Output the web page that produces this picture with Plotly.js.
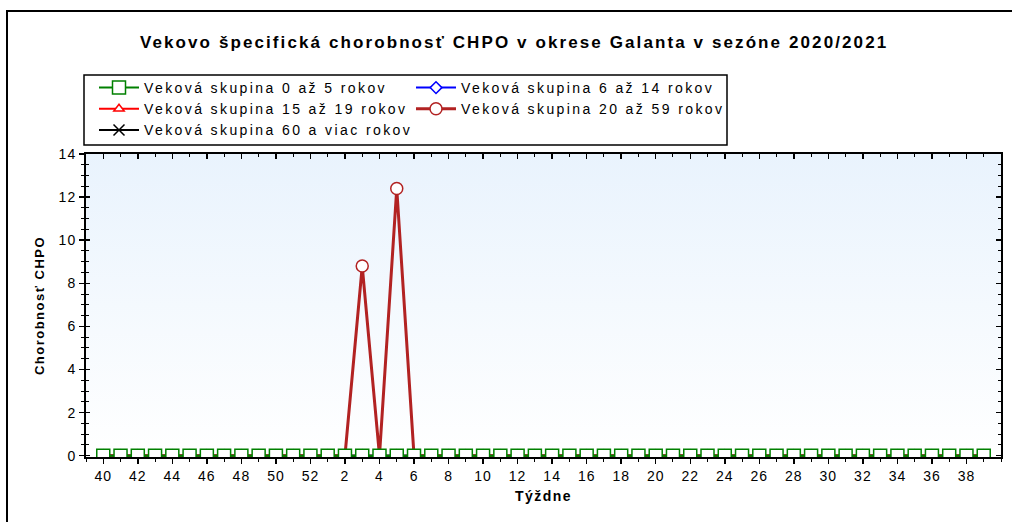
<!DOCTYPE html>
<html>
<head>
<meta charset="utf-8">
<script src="https://cdn.plot.ly/plotly-3.0.1.min.js"></script>
<style>
  html, body { margin: 0; padding: 0; background: #ffffff; }
  #chart { width: 1012px; height: 522px; }
  .gtitle { letter-spacing: 2.1px; }
  .legendtext { letter-spacing: 2.4px; }
  .xtick text, .ytick text { letter-spacing: 1px; }
  .g-xtitle text, .g-ytitle text { letter-spacing: 1.5px; }
</style>
</head>
<body>
<div id="chart"></div>
<script>
// Weeks of the season (week 40/2020 .. week 39/2021)
const weeks = [40,41,42,43,44,45,46,47,48,49,50,51,52,
  1,2,3,4,5,6,7,8,9,10,11,12,13,14,15,16,17,18,19,20,21,22,23,24,25,26,27,28,29,30,31,32,33,34,35,36,37,38,39];

// Series values (chorobnosť CHPO)
const age0to5 = [0,0,0,0,0,0,0,0,0,0,0,0,0,
  0,0,0,0,0,0,0,0,0,0,0,0,0,0,0,0,0,0,0,0,0,0,0,0,0,0,0,0,0,0,0,0,0,0,0,0,0,0,0];
const age6to14 = [0,0,0,0,0,0,0,0,0,0,0,0,0,
  0,0,0,0,0,0,0,0,0,0,0,0,0,0,0,0,0,0,0,0,0,0,0,0,0,0,0,0,0,0,0,0,0,0,0,0,0,0,0];
const age15to19 = [0,0,0,0,0,0,0,0,0,0,0,0,0,
  0,0,0,0,0,0,0,0,0,0,0,0,0,0,0,0,0,0,0,0,0,0,0,0,0,0,0,0,0,0,0,0,0,0,0,0,0,0,0];
const age20to59 = [0,0,0,0,0,0,0,0,0,0,0,0,0,
  0,0,8.8,0,12.4,0,0,0,0,0,0,0,0,0,0,0,0,0,0,0,0,0,0,0,0,0,0,0,0,0,0,0,0,0,0,0,0,0,0];
const age60plus = [0,0,0,0,0,0,0,0,0,0,0,0,0,
  0,0,0,0,0,0,0,0,0,0,0,0,0,0,0,0,0,0,0,0,0,0,0,0,0,0,0,0,0,0,0,0,0,0,0,0,0,0,0];

const seriesNames = [
  'Veková skupina 0 až 5 rokov',
  'Veková skupina 6 až 14 rokov',
  'Veková skupina 15 až 19 rokov',
  'Veková skupina 20 až 59 rokov',
  'Veková skupina 60 a viac rokov'
];
const tickLabels = ['40','42','44','46','48','50','52','2','4','6','8','10','12','14','16','18','20','22','24','26','28','30','32','34','36','38'];

const idx = weeks.map((w, i) => i);
const tickPos = idx.filter(i => i % 2 === 0 && i <= 50);

const font = 'Liberation Sans, Arial, sans-serif';

function tr(y, name, color, symbol, size, lw, rank, mlw) {
  const open = symbol === 'x-thin';
  return {
    x: idx, y: y, name: name, type: 'scatter', mode: 'lines+markers',
    line: { color: color, width: lw },
    marker: { symbol: symbol, size: size, color: open ? color : '#ffffff',
              line: { color: color, width: mlw } },
    legendrank: rank, cliponaxis: true,
    text: weeks.map(String), hovertemplate: 'Týždeň %{text}: %{y}<extra></extra>'
  };
}

const traces = [
  tr(age6to14, seriesNames[1], '#0000ff', 'diamond', 9, 2, 2, 1.5),
  tr(age15to19, seriesNames[2], '#ff0000', 'triangle-up', 9, 2, 3, 1.5),
  tr(age60plus, seriesNames[4], '#000000', 'x-thin', 11, 2, 5, 1.5),
  tr(age20to59, seriesNames[3], '#b22222', 'circle', 12, 3, 4, 1.5),
  tr(age0to5, seriesNames[0], '#008000', 'square', 13, 2, 1, 1.5),
  { x: [], y: [], xaxis: 'x2', yaxis: 'y2', showlegend: false, hoverinfo: 'skip', type: 'scatter' },
  { x: [], y: [], xaxis: 'x', yaxis: 'y3', showlegend: false, hoverinfo: 'skip', type: 'scatter' }
];

const gradSvg = "<svg xmlns='http://www.w3.org/2000/svg' width='10' height='10' preserveAspectRatio='none'>" +
  "<defs><linearGradient id='g' x1='0' y1='0' x2='0' y2='1'>" +
  "<stop offset='0' stop-color='#e9f3fd'/><stop offset='1' stop-color='#ffffff'/></linearGradient></defs>" +
  "<rect width='10' height='10' fill='url(#g)'/></svg>";
const gradUri = 'data:image/svg+xml;charset=utf-8,' + encodeURIComponent(gradSvg);

const W = 1012, H = 522, L = 86, R = 11, T = 154, B = 65;
const pw = W - L - R, ph = H - T - B;
const px = v => (v - L) / pw;
const py = v => (H - B - v) / ph;

const layout = {
  width: W, height: H,
  margin: { l: L, r: R, t: T, b: B },
  paper_bgcolor: '#ffffff',
  plot_bgcolor: 'rgba(0,0,0,0)',
  font: { family: font, size: 14, color: '#000000' },
  title: {
    text: '<b>Vekovo špecifická chorobnosť CHPO v okrese Galanta v sezóne 2020/2021</b>',
    font: { family: font, size: 17, color: '#000000' },
    xref: 'container', yref: 'container', x: 0.508, xanchor: 'center', y: 1 - 42 / H, yanchor: 'middle'
  },
  xaxis: {
    range: [-1, 52], tickmode: 'array', tickvals: tickPos, ticktext: tickLabels,
    ticks: 'outside', ticklen: 5, tickwidth: 1.5, tickcolor: '#000000',
    minor: { tickmode: 'linear', tick0: 0, dtick: 1, ticks: 'outside', ticklen: 3, tickwidth: 1, tickcolor: '#000000' },
    showline: true, linecolor: '#000000', linewidth: 2, mirror: true,
    showgrid: false, zeroline: false, fixedrange: true,
    tickfont: { family: font, size: 14, color: '#000000' },
    title: { text: '<b>Týždne</b>', font: { family: font, size: 14, color: '#000000' }, standoff: 8 }
  },
  xaxis2: {
    range: [-1, 52], overlaying: 'x', side: 'top', anchor: 'y',
    tickmode: 'array', tickvals: tickPos, ticks: 'inside', ticklen: 5, tickwidth: 1.5, tickcolor: '#000000',
    minor: { tickmode: 'linear', tick0: 0, dtick: 1, ticks: 'inside', ticklen: 3, tickwidth: 1, tickcolor: '#000000' },
    showticklabels: false, showline: false, showgrid: false, zeroline: false, fixedrange: true
  },
  yaxis: {
    range: [-0.06, 14], tickmode: 'linear', tick0: 0, dtick: 2,
    ticks: 'outside', ticklen: 5, tickwidth: 1.5, tickcolor: '#000000',
    minor: { tick0: 0, dtick: 0.5, ticks: 'outside', ticklen: 3, tickwidth: 1, tickcolor: '#000000' },
    showline: true, linecolor: '#000000', linewidth: 2, mirror: true,
    showgrid: false, zeroline: false, fixedrange: true,
    tickfont: { family: font, size: 14, color: '#000000' },
    title: { text: '<b>Chorobnosť CHPO</b>', font: { family: font, size: 13, color: '#000000' }, standoff: 11 }
  },
  yaxis2: {
    range: [-0.06, 14], overlaying: 'y', side: 'right', anchor: 'x2',
    tickmode: 'linear', tick0: 0, dtick: 2, ticks: 'inside', ticklen: 5, tickwidth: 1.5, tickcolor: '#000000',
    minor: { tick0: 0, dtick: 0.5, ticks: 'inside', ticklen: 3, tickwidth: 1, tickcolor: '#000000' },
    showticklabels: false, showline: false, showgrid: false, zeroline: false, fixedrange: true
  },
  yaxis3: {
    range: [-0.06, 14], overlaying: 'y', side: 'left', anchor: 'x',
    tickmode: 'linear', tick0: 0, dtick: 2, ticks: 'inside', ticklen: 4, tickwidth: 1.5, tickcolor: '#000000',
    minor: { tick0: 0, dtick: 0.5, ticks: 'inside', ticklen: 3, tickwidth: 1, tickcolor: '#000000' },
    showticklabels: false, showline: false, showgrid: false, zeroline: false, fixedrange: true
  },
  legend: {
    orientation: 'h', x: px(94), xanchor: 'left', y: py(72), yanchor: 'top',
    bgcolor: 'rgba(0,0,0,0)', borderwidth: 0,
    entrywidth: 262, entrywidthmode: 'pixels', itemwidth: 40,
    font: { family: font, size: 14, color: '#000000' },
    traceorder: 'normal'
  },
  images: [{
    source: gradUri, xref: 'paper', yref: 'paper', x: 0, y: 1, sizex: 1, sizey: 1,
    xanchor: 'left', yanchor: 'top', sizing: 'stretch', layer: 'below'
  }],
  shapes: [
    {
      type: 'path', xref: 'paper', yref: 'paper',
      path: 'M' + px(7) + ',' + py(540) + ' L' + px(7) + ',' + py(11) + ' L' + px(1020) + ',' + py(11),
      line: { color: '#000000', width: 2 }, layer: 'above'
    },
    {
      type: 'rect', xref: 'paper', yref: 'paper',
      x0: px(84), x1: px(727), y0: py(75), y1: py(145),
      line: { color: '#000000', width: 1.5 }, fillcolor: 'rgba(0,0,0,0)', layer: 'above'
    }
  ],
  showlegend: true
};

Plotly.newPlot('chart', traces, layout, { displayModeBar: false, staticPlot: true });
</script>
</body>
</html>
